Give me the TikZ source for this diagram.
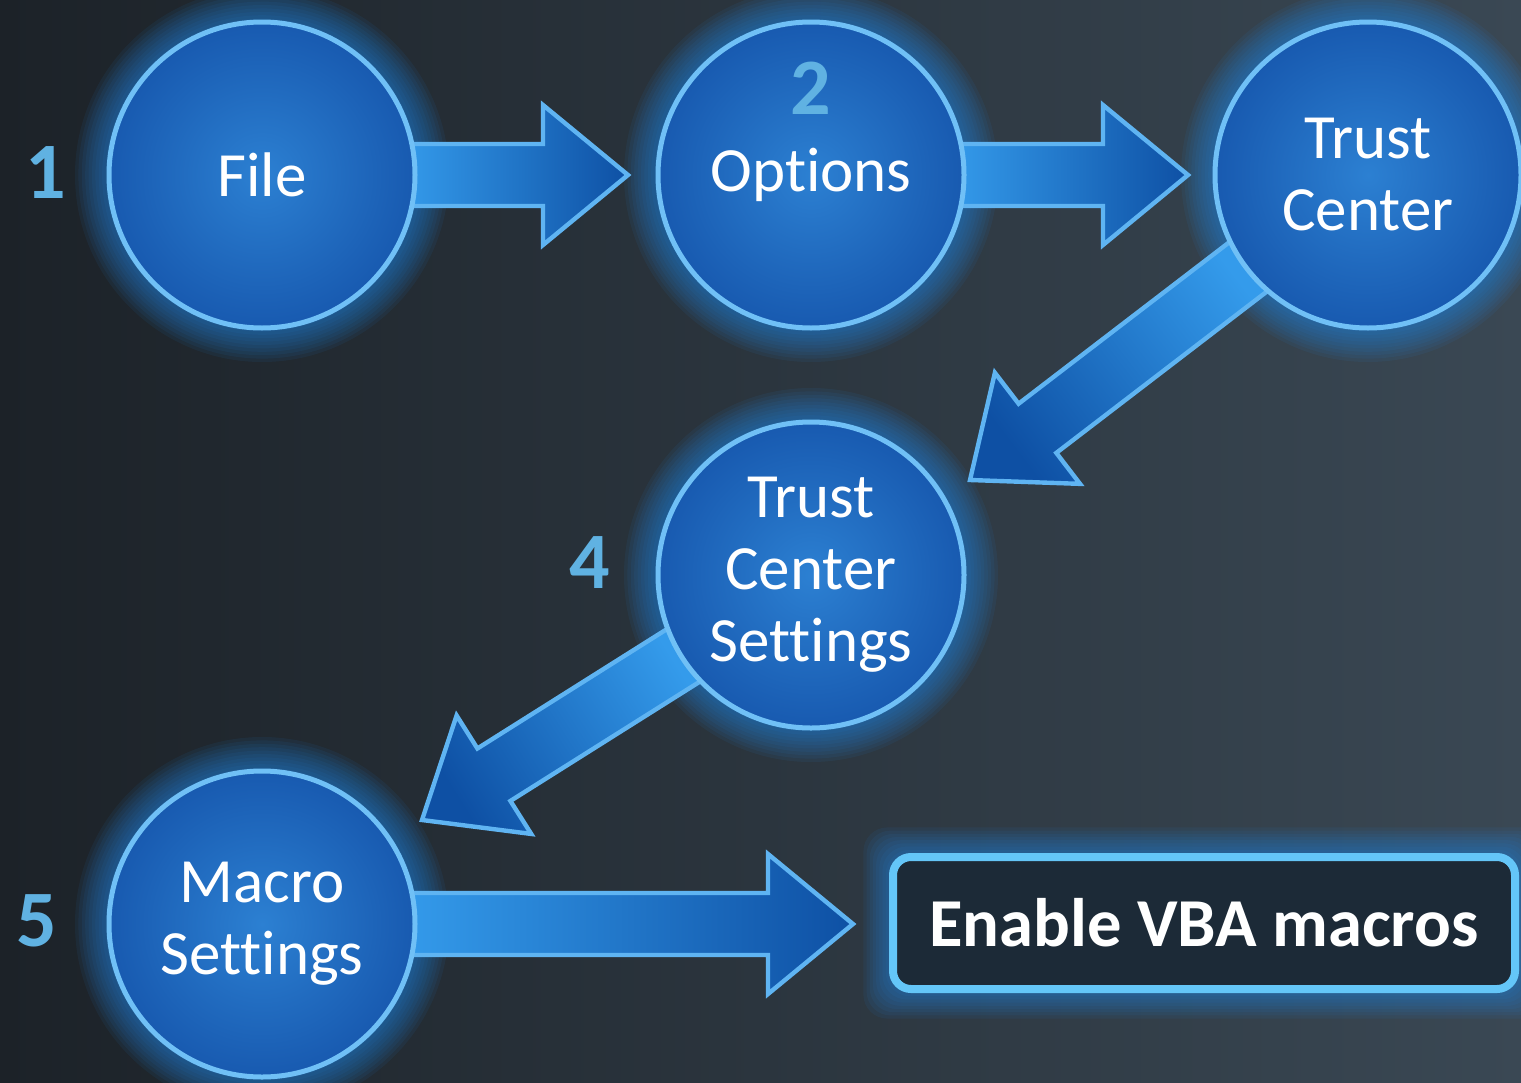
\documentclass[tikz,border=0pt]{standalone}
\usepackage{fontspec}
\setmainfont{Carlito}[Ligatures=NoCommon]
\usetikzlibrary{calc}
\definecolor{bgL}{RGB}{28,34,40}
\definecolor{bgR}{RGB}{58,72,84}
\definecolor{cIn}{RGB}{44,128,210}
\definecolor{cOut}{RGB}{24,90,176}
\definecolor{cRim}{RGB}{112,192,246}
\definecolor{glowc}{RGB}{30,140,240}
\definecolor{aTail}{RGB}{52,155,235}
\definecolor{aTip}{RGB}{14,80,164}
\definecolor{aRim}{RGB}{95,180,242}
\definecolor{numc}{RGB}{96,178,226}
\definecolor{boxfill}{RGB}{28,42,55}
\definecolor{boxrim}{RGB}{100,198,248}
\pgfdeclarelayer{bg}
\pgfdeclarelayer{glow}
\pgfdeclarelayer{arrows}
\pgfsetlayers{bg,glow,arrows,main}
\newcommand\flowarrow[2]{%
  \pgfmathanglebetweenpoints{\pgfpointanchor{#1}{center}}{\pgfpointanchor{#2}{center}}%
  \pgfmathsetmacro\faang{\pgfmathresult-90}%
  \coordinate (fa-s) at ($(#1.center)!70pt!(#2)$);
  \coordinate (fa-h) at ($(#2)!42.5pt!(#1.center)$);
  \path[arrowbody, shading angle=\faang]
    ($(fa-s)!15.5pt!90:(#2)$) -- ($(fa-h)!15.5pt!90:(#2)$) -- ($(fa-h)!35pt!90:(#2)$)
    -- (#2) -- ($(fa-h)!35pt!-90:(#2)$) -- ($(fa-h)!15.5pt!-90:(#2)$)
    -- ($(fa-s)!15.5pt!-90:(#2)$) -- cycle;
}
\tikzset{
  stepcircle/.style={circle, minimum size=153pt, inner sep=0pt, inner color=cIn, outer color=cOut,
    draw=cRim, line width=2.5pt, text=white, align=center, font=\fontsize{31.5}{36}\selectfont},
  numlabel/.style={text=numc, font=\bfseries\fontsize{40}{40}\selectfont, inner sep=0pt},
  arrowbody/.style={top color=aTip, bottom color=aTail, draw=aRim, line width=2.2pt, line join=miter},
  resultbox/.style={rectangle, rounded corners=9pt, minimum width=311pt, minimum height=66pt,
    fill=boxfill, draw=boxrim, line width=4pt, text=white, font=\bfseries\fontsize{34.3}{38}\selectfont}
}
\begin{document}
\begin{tikzpicture}[x=0.5pt, y=-0.5pt]
\begin{pgfonlayer}{bg}
  \fill[left color=bgL, right color=bgR] (0,0) rectangle (1521,1082);
\end{pgfonlayer}
\useasboundingbox (0,0) rectangle (1521,1082);

\node[stepcircle] (file) at (262,175) {File};
\node[stepcircle] (opt) at (811,175) {Options};
\node[stepcircle] (tc) at (1368,175) {Trust\\Center};
\node[stepcircle] (tcs) at (811,575) {Trust\\Center\\Settings};
\node[stepcircle] (mac) at (262,924) {Macro\\Settings};
\node[resultbox] (vba) at (1204,923) {Enable VBA macros};

\node[numlabel] (n1) at (46,173) {1};
\node[numlabel] (n2) at (811,88) {2};
\node[numlabel] (n4) at (590,563) {4};
\node[numlabel] (n5) at (37,921) {5};

\coordinate (t1) at (628,175);
\coordinate (t2) at (1188,175);
\coordinate (t3) at (970,480);
\coordinate (t4) at (422,820);
\coordinate (t5) at (853,924);

\begin{pgfonlayer}{glow}
  \foreach \n in {file,opt,tc,tcs,mac}{
    \foreach \k in {1,...,10}{
      \fill[glowc, opacity=0.07] (\n.center) circle ({76.5pt+\k*1.7pt});
    }
  }
  \foreach \k in {1,...,8}{
    \fill[glowc, opacity=0.07, rounded corners=12pt]
      ($(vba.north west)+(-\k*1.6pt,\k*1.6pt)$) rectangle ($(vba.south east)+(\k*1.6pt,-\k*1.6pt)$);
  }
\end{pgfonlayer}

\begin{pgfonlayer}{arrows}
  \flowarrow{file}{t1}
  \flowarrow{opt}{t2}
  \flowarrow{tc}{t3}
  \flowarrow{tcs}{t4}
  \flowarrow{mac}{t5}
\end{pgfonlayer}
\end{tikzpicture}
\end{document}
